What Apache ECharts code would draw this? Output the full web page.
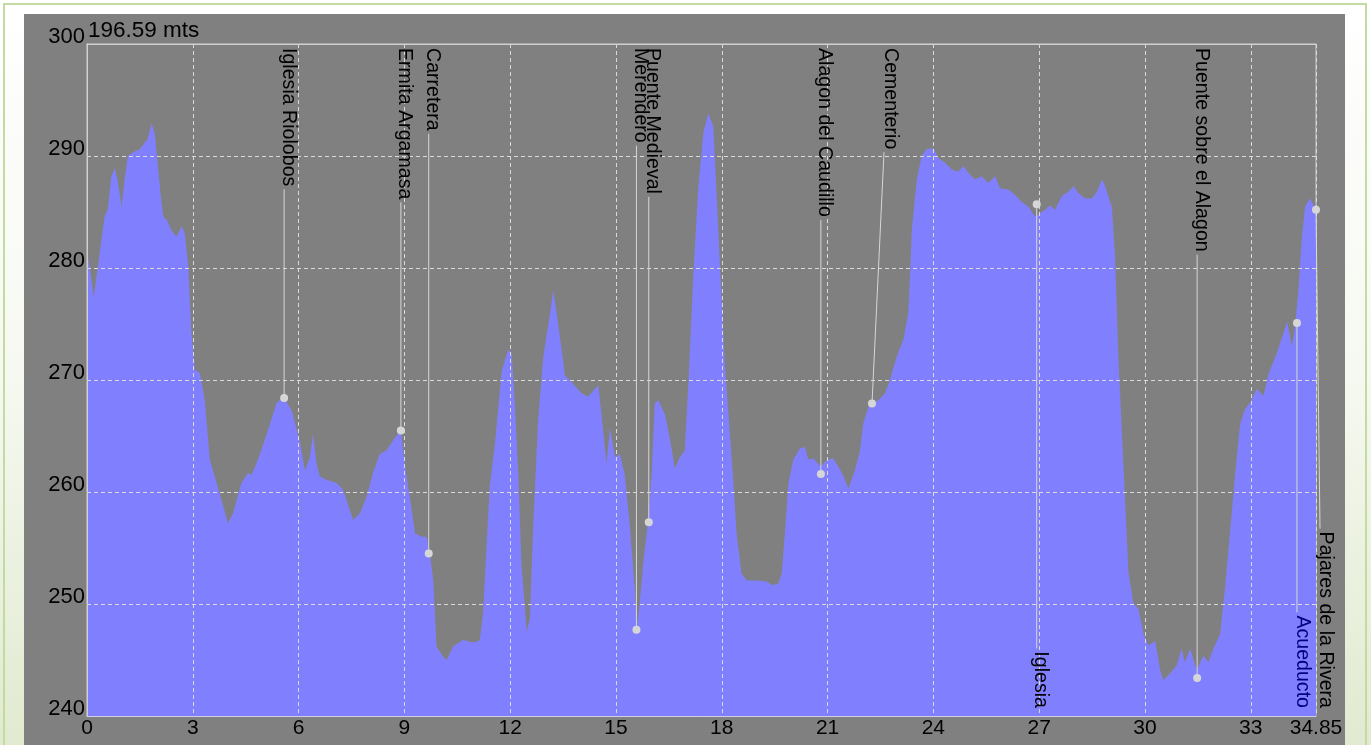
<!DOCTYPE html>
<html><head><meta charset="utf-8">
<script src="https://cdn.jsdelivr.net/npm/echarts@6/dist/echarts.min.js"></script>
<style>
html,body{margin:0;padding:0;width:1371px;height:745px;overflow:hidden;background:linear-gradient(180deg,#ffffff 0%,#f6f9f1 50%,#e1ead0 100%);}
#frame{position:absolute;left:3px;top:3px;width:1364px;height:760px;border:2px solid #c5daa2;box-sizing:border-box;}
#panel{position:absolute;left:24px;top:14px;width:1321px;height:731px;background:#808080;}
#chart{position:absolute;left:0;top:0;width:1371px;height:745px;}
</style></head><body>
<div id="frame"></div><div id="panel"></div><div id="chart"></div>
<script>
// ---- data ----
const titleText = '196.59 mts';
const kmValues = [0.00,0.10,0.19,0.31,0.40,0.50,0.59,0.69,0.79,0.88,0.98,1.07,1.16,1.35,1.50,1.64,1.72,1.83,1.92,2.01,2.09,2.16,2.26,2.39,2.54,2.68,2.77,2.87,2.96,3.06,3.20,3.34,3.48,3.62,3.81,4.00,4.14,4.38,4.57,4.66,4.85,5.13,5.37,5.56,5.80,6.03,6.18,6.32,6.41,6.51,6.60,6.79,7.08,7.26,7.45,7.55,7.74,7.93,8.11,8.30,8.49,8.68,8.82,8.90,9.01,9.15,9.30,9.49,9.63,9.72,9.82,9.91,10.10,10.20,10.38,10.67,10.86,11.05,11.14,11.23,11.33,11.42,11.57,11.76,11.94,12.04,12.13,12.23,12.32,12.47,12.56,12.65,12.79,12.94,13.13,13.22,13.32,13.46,13.55,13.74,14.03,14.21,14.40,14.50,14.59,14.73,14.83,14.97,15.11,15.25,15.40,15.54,15.59,15.68,15.77,15.91,16.01,16.10,16.20,16.39,16.53,16.67,16.81,16.95,17.05,17.19,17.33,17.48,17.62,17.76,17.86,17.95,18.09,18.23,18.33,18.42,18.56,18.71,18.99,19.27,19.42,19.60,19.70,19.79,19.89,20.03,20.22,20.36,20.45,20.60,20.79,21.02,21.16,21.30,21.45,21.59,21.78,21.92,22.01,22.16,22.44,22.63,22.77,22.96,23.15,23.29,23.34,23.39,23.53,23.67,23.81,24.00,24.14,24.33,24.52,24.71,24.85,24.99,25.18,25.37,25.56,25.75,25.89,26.13,26.32,26.51,26.69,26.88,27.03,27.17,27.31,27.45,27.64,27.83,27.97,28.11,28.30,28.49,28.64,28.78,28.87,28.96,29.06,29.15,29.25,29.39,29.53,29.67,29.82,29.96,30.10,30.29,30.43,30.52,30.71,30.90,31.04,31.13,31.28,31.47,31.66,31.80,31.94,32.13,32.27,32.42,32.56,32.70,32.84,32.98,33.17,33.36,33.50,33.74,33.93,34.03,34.17,34.26,34.35,34.45,34.54,34.68,34.80,34.85];
const elevValues = [281.6,279.5,277.4,280.1,282.3,284.6,285.2,288.2,288.9,287.6,285.5,288.0,290.0,290.4,290.6,291.2,291.5,292.9,292.0,289.1,286.5,284.6,284.3,283.4,282.8,283.7,283.1,280.1,274.2,270.9,270.6,268.2,262.9,261.4,259.3,257.2,258.1,260.8,261.7,261.5,262.9,265.5,267.9,268.5,267.3,264.6,261.9,263.1,265.2,262.5,261.4,261.1,260.8,260.2,258.4,257.5,258.1,259.6,261.7,263.4,263.7,264.6,265.2,265.5,262.5,259.6,256.3,256.0,256.0,254.5,252.1,246.2,245.3,245.0,246.2,246.8,246.6,246.6,246.8,249.2,255.1,260.5,264.4,270.8,272.7,272.4,267.9,261.5,253.5,247.5,248.7,256.7,266.3,272.1,275.9,278.0,275.9,272.7,270.4,269.8,268.8,268.5,269.2,269.5,266.9,262.5,265.7,263.1,263.4,261.5,256.7,251.0,247.8,250.3,253.5,257.4,261.5,267.9,268.2,266.9,264.7,262.1,263.1,263.7,269.5,279.1,287.0,292.1,293.8,292.6,286.1,280.1,271.2,265.2,260.8,256.3,252.7,252.1,252.1,252.0,251.7,251.8,252.7,256.3,260.8,262.9,263.9,264.0,262.9,263.0,262.3,262.9,263.0,262.3,261.4,260.3,262.0,263.7,266.1,267.6,268.2,268.8,270.0,272.1,273.6,276.0,279.5,283.4,287.9,290.0,290.6,290.7,289.8,289.4,288.8,288.6,289.1,288.5,287.9,288.2,287.6,288.2,287.1,287.0,286.5,285.9,285.5,284.6,284.9,285.2,285.6,285.2,286.4,286.8,287.3,286.7,286.2,286.2,286.8,287.9,287.3,286.4,285.5,281.1,271.7,262.3,252.9,250.1,249.5,247.3,246.3,246.7,244.1,243.2,243.8,244.5,246.0,244.8,246.0,244.1,245.4,244.8,246.0,247.3,251.4,256.7,261.7,266.1,267.4,268.0,269.2,268.6,270.5,272.4,274.2,275.2,273.0,274.9,278.0,282.7,285.5,286.2,285.5,285.2];
const poiNames = ['Iglesia Riolobos','Ermita Argamasa','Carretera','Merendero','Puente Medieval','Alagon del Caudillo','Cementerio','Iglesia','Puente sobre el Alagon','Acueducto','Pajares de la Rivera'];
const poiKm = [5.59,8.90,9.69,15.58,15.93,20.81,22.26,26.93,31.48,34.31,34.85];
const poiElev = [268.4,265.5,254.5,247.7,257.3,261.6,267.9,285.7,243.4,275.1,285.2];

// ---- layout (not data) ----
const LABEL_SIDE = ['top','top','top','top','top','top','top','bottom','top','bottom','bottom'];
const LABEL_DX = [0,0,0,0,0,0,12,0,0,0,4];
const LABEL_TX = [4,4,4,4,4,4,6,4,4,5,5];
const LABEL_COLOR = ['#000','#000','#000','#000','#000','#000','#000','#000','#000','#000080','#000'];
const FONT = '"Liberation Sans", Arial, sans-serif';
const LABEL_FONT = '19.6px ' + FONT;

const mctx = document.createElement('canvas').getContext('2d');
mctx.font = LABEL_FONT;
function textW(s){ return mctx.measureText(s).width; }

const areaData = kmValues.map((k,i)=>[k, elevValues[i]]);
const poiData = poiKm.map((k,i)=>[k, poiElev[i], i]);

const chart = echarts.init(document.getElementById('chart'), null, {renderer:'canvas'});
const splitStyle = {color:'#dadada', type:[4,3], width:1};
chart.setOption({
  backgroundColor:'transparent',
  animation:false,
  title:{text:titleText, left:88, top:19, padding:0,
    textStyle:{fontSize:22.5, fontWeight:'normal', color:'#000', fontFamily:FONT}},
  grid:{left:87, top:44, right:55, bottom:29, show:true, borderColor:'#d0d0d0', borderWidth:1, backgroundColor:'transparent'},
  xAxis:[{type:'value', min:0, max:34.85, interval:3, z:3,
    axisLine:{show:true, lineStyle:{color:'#cfcfe8', width:1}},
    axisTick:{show:false},
    axisLabel:{color:'#000', fontSize:21, fontFamily:FONT, margin:2, verticalAlign:'top', lineHeight:21, showMaxLabel:true, showMinLabel:true, hideOverlap:false},
    splitLine:{show:true, lineStyle:splitStyle}},
    {type:'value', position:'top', min:0, max:34.85, z:3, axisLine:{show:true, lineStyle:{color:'#d0d0d0'}}, axisTick:{show:false}, axisLabel:{show:false}, splitLine:{show:false}}],
  yAxis:[{type:'value', min:240, max:300, interval:10, z:3,
    axisLine:{show:true, lineStyle:{color:'#d0d0d0', width:1}},
    axisTick:{show:false},
    axisLabel:{color:'#000', fontSize:22, fontFamily:FONT, margin:2, verticalAlign:'bottom', lineHeight:15},
    splitLine:{show:true, lineStyle:splitStyle}},
    {type:'value', position:'right', min:240, max:300, z:3, axisLine:{show:true, lineStyle:{color:'#d0d0d0'}}, axisTick:{show:false}, axisLabel:{show:false}, splitLine:{show:false}}],
  series:[
    {type:'line', data:areaData, symbol:'none', z:2, silent:true,
      lineStyle:{width:0}, areaStyle:{color:'#8080ff', opacity:1, origin:'start'}},
    {type:'custom', data:poiData, z:5, clip:false, silent:true,
      encode:{x:0, y:1},
      renderItem:function(params, api){
        const i = api.value(2);
        const p = api.coord([api.value(0), api.value(1)]);
        const cs = params.coordSys;
        const name = poiNames[i];
        const w = textW(name);
        const lx = p[0] + LABEL_DX[i];
        let y0, lineEnd;
        if (LABEL_SIDE[i] === 'top') { y0 = cs.y + 4; lineEnd = y0 + w + 3; }
        else { y0 = cs.y + cs.height - 8 - w; lineEnd = y0 - 3; }
        return {type:'group', children:[
          {type:'line', shape:{x1:p[0], y1:p[1], x2:lx, y2:lineEnd}, style:{stroke:'#d6d6d6', lineWidth:1}},
          {type:'circle', shape:{cx:p[0], cy:p[1], r:4}, style:{fill:'#d6d6d6'}},
          {type:'text', x:lx+LABEL_TX[i], y:y0, rotation:-Math.PI/2,
            style:{text:name, fill:LABEL_COLOR[i], font:LABEL_FONT, align:'left', verticalAlign:'middle'}}
        ]};
      }}
  ]
});
</script>
</body></html>
